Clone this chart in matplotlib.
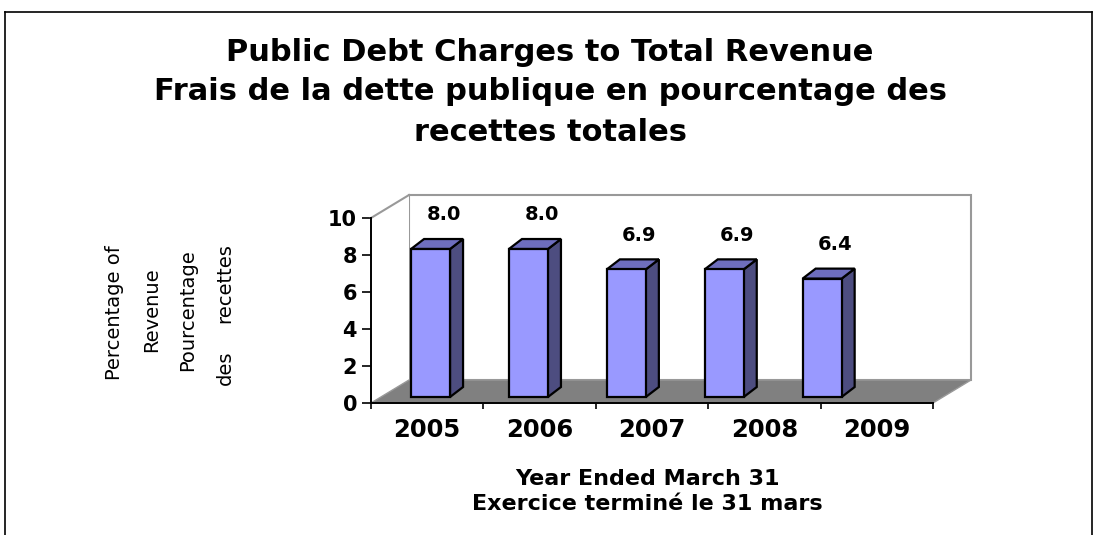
import numpy as np
import matplotlib
matplotlib.use('Agg')
import matplotlib.pyplot as plt
from matplotlib.patches import Polygon
from matplotlib.lines import Line2D

# chart data
years = ['2005', '2006', '2007', '2008', '2009']
debt_pct = [8.0, 8.0, 6.9, 6.9, 6.4]
value_labels = ['8.0', '8.0', '6.9', '6.9', '6.4']
y_ticks = [0, 2, 4, 6, 8, 10]

title_lines = ['Public Debt Charges to Total Revenue',
               'Frais de la dette publique en pourcentage des',
               'recettes totales']
xlabel_lines = ['Year Ended March 31', 'Exercice terminé le 31 mars']

W, H = 1097, 535
fig = plt.figure(figsize=(W / 100, H / 100), dpi=100)
fig.patch.set_facecolor('white')

def fx(px):
    return px / W

def fy(py):
    return 1 - py / H

# frame around the whole chart (bottom edge is cut off in the original)
for xs, ys in [([5, 5], [12, H]), ([5, 1092], [12, 12]), ([1092, 1092], [12, H])]:
    fig.add_artist(Line2D([fx(x) for x in xs], [fy(y) for y in ys],
                          transform=fig.transFigure, color='black', lw=1.2))

# front plane of the 3d box: x in category units, y in percent
ax = fig.add_axes([fx(371), fy(403), fx(933) - fx(371), fy(218) - fy(403)])
ax.set_xlim(0, len(years))
ax.set_ylim(0, 10)
ax.patch.set_alpha(0)

DX, DY = 0.338, 1.243        # depth of walls/floor
BDX, BDY = 0.116, 0.54       # depth of a column
BAR_W = 0.347
BAR_X0, BAR_STEP = 0.356, 0.871
BAR_Y0 = 0.324
wall_grey = '#999999'
n = len(years)

# back wall + left wall
ax.add_patch(Polygon([(DX, DY), (n + DX, DY), (n + DX, 10 + DY), (DX, 10 + DY)],
                     closed=True, facecolor='white', edgecolor=wall_grey, lw=1.5,
                     clip_on=False, zorder=1))
ax.add_patch(Polygon([(0, 0), (DX, DY), (DX, 10 + DY), (0, 10)], closed=True,
                     facecolor='white', edgecolor='none', clip_on=False, zorder=1))
ax.plot([0, DX], [10, 10 + DY], color=wall_grey, lw=1.5, clip_on=False, zorder=2)
# floor
ax.add_patch(Polygon([(0, 0), (n, 0), (n + DX, DY), (DX, DY)], closed=True,
                     facecolor='#808080', edgecolor=wall_grey, lw=1,
                     clip_on=False, zorder=2))

# columns
for i, v in enumerate(debt_pct):
    l = BAR_X0 + i * BAR_STEP
    r = l + BAR_W
    b = BAR_Y0
    t = BAR_Y0 + v
    kw = dict(closed=True, edgecolor='black', lw=1.6, clip_on=False, zorder=5,
              joinstyle='miter')
    ax.add_patch(Polygon([(r, b), (r + BDX, b + BDY), (r + BDX, t + BDY), (r, t)],
                         facecolor='#4d4d80', **kw))
    ax.add_patch(Polygon([(l, t), (r, t), (r + BDX, t + BDY), (l + BDX, t + BDY)],
                         facecolor='#6e6ebe', **kw))
    ax.add_patch(Polygon([(l, b), (r, b), (r, t), (l, t)],
                         facecolor='#9999ff', **kw))
    ax.text(l + BAR_W / 2 + BDX, t + BDY + 1.3, value_labels[i], ha='center',
            va='center', fontsize=14, fontweight='bold', family='DejaVu Sans',
            zorder=6)

# axes styling
for s in ['top', 'right']:
    ax.spines[s].set_visible(False)
ax.spines['left'].set_linewidth(1.4)
ax.spines['bottom'].set_linewidth(1.4)
ax.spines['left'].set_zorder(3)
ax.spines['bottom'].set_zorder(3)

ax.set_yticks(y_ticks)
ax.set_yticklabels([str(t) for t in y_ticks], fontsize=15, fontweight='bold')
ax.tick_params(axis='y', length=6.5, width=1.2, pad=3.5)

ax.set_xticks(np.arange(n + 1))
ax.set_xticklabels([])
ax.set_xticks(np.arange(n) + 0.5, minor=True)
ax.set_xticklabels(years, minor=True, fontsize=17.5, fontweight='bold')
ax.tick_params(axis='x', which='major', length=4.5, width=1.2)
ax.tick_params(axis='x', which='minor', length=0, pad=11)

# titles and axis texts
for txt, base in zip(title_lines, [61, 100, 141]):
    fig.text(fx(550), fy(base), txt, ha='center', va='baseline',
             fontsize=22, fontweight='bold')
for txt, base in zip(xlabel_lines, [485, 510]):
    fig.text(fx(647), fy(base), txt, ha='center', va='baseline',
             fontsize=16, fontweight='bold')

ylab_kw = dict(rotation=90, rotation_mode='anchor', fontsize=14)
fig.text(fx(115), fy(313), 'Percentage of', ha='center', va='center', **ylab_kw)
fig.text(fx(152), fy(310), 'Revenue', ha='center', va='center', **ylab_kw)
fig.text(fx(188), fy(310), 'Pourcentage', ha='center', va='center', **ylab_kw)
fig.text(fx(225), fy(385), 'des', ha='left', va='center', **ylab_kw)
fig.text(fx(225), fy(243), 'recettes', ha='right', va='center', **ylab_kw)

fig.savefig('out.png', dpi=100)
